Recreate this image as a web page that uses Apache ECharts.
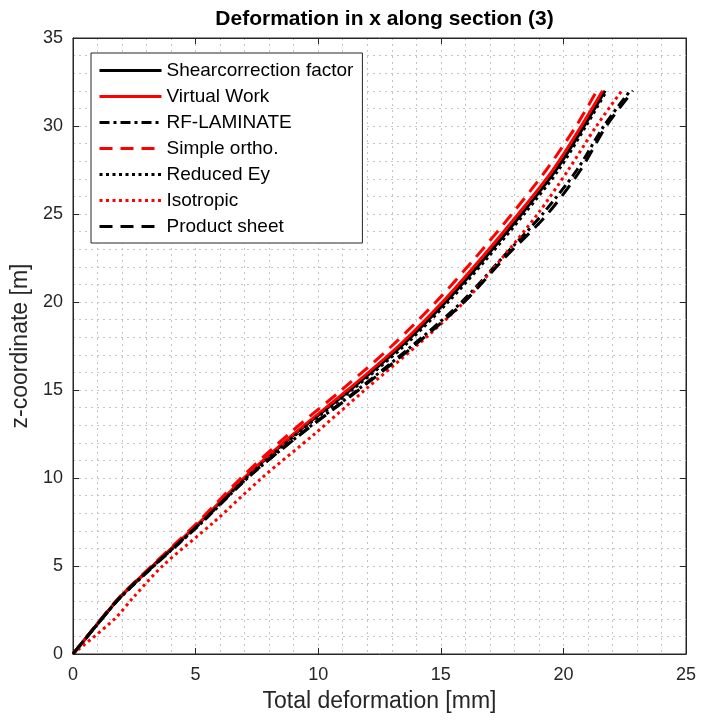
<!DOCTYPE html>
<html>
<head>
<meta charset="utf-8">
<title>Deformation in x along section (3)</title>
<script src="https://cdn.jsdelivr.net/npm/echarts@6/dist/echarts.min.js"></script>
<style>
  html, body { margin: 0; padding: 0; background: #fff; }
  #chart { width: 702px; height: 720px; }
</style>
</head>
<body>
<div id="chart"></div>
<script>
// Height along the section [m]
const zCoord = [0, 2, 3.2, 5, 7.5, 10, 12.5, 15, 17.5, 20, 22.5, 25, 27.5, 30, 32];

// Total deformation in x [mm] for each model
const shearCorrection = [0, 1.17, 1.90, 3.25, 5.20, 7.00, 9.05, 11.30, 13.40, 15.20, 16.80, 18.30, 19.70, 20.85, 21.70];
const virtualWork     = [0, 1.17, 1.90, 3.24, 5.18, 6.97, 9.00, 11.20, 13.28, 15.07, 16.66, 18.16, 19.57, 20.73, 21.60];
const rfLaminate      = [0, 1.18, 1.93, 3.30, 5.28, 7.12, 9.28, 11.60, 13.82, 15.85, 17.50, 19.15, 20.55, 21.65, 22.72];
const simpleOrtho     = [0, 1.15, 1.87, 3.20, 5.10, 6.85, 8.80, 10.95, 13.00, 14.80, 16.40, 17.90, 19.30, 20.52, 21.36];
const reducedEy       = [0, 1.18, 1.92, 3.28, 5.25, 7.06, 9.12, 11.38, 13.50, 15.30, 16.90, 18.40, 19.80, 20.92, 21.76];
const isotropic       = [0, 1.70, 2.45, 3.65, 5.75, 7.70, 9.85, 11.90, 14.00, 15.95, 17.50, 18.95, 20.20, 21.35, 22.38];
const productSheet    = [0, 1.17, 1.90, 3.27, 5.25, 7.10, 9.30, 11.65, 13.90, 15.95, 17.60, 19.35, 20.70, 21.75, 22.84];

const xTicks = [0, 5, 10, 15, 20, 25];
const yTicks = [0, 5, 10, 15, 20, 25, 30, 35];

const FONT = '"Liberation Sans", Arial, Helvetica, sans-serif';
const AXIS = '#262626';
const GRID = '#c4c4c4';

function pairs(values) {
  return values.map((d, i) => [d, zCoord[i]]);
}

function makeSeries(name, values, color, type) {
  return {
    name: name,
    type: 'line',
    data: pairs(values),
    xAxisIndex: 0,
    yAxisIndex: 0,
    symbol: 'none',
    smooth: 0.3,
    lineStyle: { color: color, width: 3, type: type, cap: 'butt' },
    itemStyle: { color: color },
    emphasis: { disabled: true },
    animation: false
  };
}

const seriesDefs = [
  ['Shearcorrection factor', shearCorrection, '#000000', 'solid'],
  ['Virtual Work', virtualWork, '#ff0000', 'solid'],
  ['RF-LAMINATE', rfLaminate, '#000000', [10, 4, 3, 4]],
  ['Simple ortho.', simpleOrtho, '#ff0000', [13, 8]],
  ['Reduced Ey', reducedEy, '#000000', [3, 3.5]],
  ['Isotropic', isotropic, '#ff0000', [3, 3.5]],
  ['Product sheet', productSheet, '#000000', [13, 8]]
];

const chart = echarts.init(document.getElementById('chart'), null, { renderer: 'canvas' });

const gridLine = { show: true, lineStyle: { color: GRID, width: 1, type: [2, 4] } };

chart.setOption({
  backgroundColor: '#ffffff',
  animation: false,
  title: {
    text: 'Deformation in x along section (3)',
    left: 379.5,
    textAlign: 'center',
    top: 4,
    textStyle: { fontFamily: FONT, fontSize: 21, fontWeight: 'bold', color: '#000' }
  },
  legend: {
    orient: 'vertical',
    left: 91,
    top: 53,
    padding: [8, 9, 7, 7],
    itemWidth: 62,
    itemHeight: 14,
    itemGap: 7,
    backgroundColor: '#ffffff',
    borderColor: AXIS,
    borderWidth: 1,
    itemStyle: { opacity: 0 },
    lineStyle: { width: 3 },
    textStyle: { fontFamily: FONT, fontSize: 19, color: '#000' },
    data: seriesDefs.map(s => s[0])
  },
  grid: {
    left: 73, right: 16, top: 38, bottom: 66,
    show: true, borderColor: AXIS, borderWidth: 1, backgroundColor: '#fff'
  },
  xAxis: [
    {
      type: 'value', min: 0, max: 25, interval: 5, position: 'bottom',
      name: 'Total deformation [mm]', nameLocation: 'middle', nameGap: 36,
      nameTextStyle: { fontFamily: FONT, fontSize: 23, color: AXIS },
      axisLine: { show: true, onZero: false, lineStyle: { color: AXIS, width: 1 } },
      axisTick: { show: true, inside: true, length: 6, lineStyle: { color: AXIS } },
      axisLabel: { fontFamily: FONT, fontSize: 18, color: AXIS, margin: 12,
        formatter: v => xTicks.includes(v) ? String(v) : '' },
      splitLine: gridLine,
      minorTick: { show: true, splitNumber: 5, length: 0 },
      minorSplitLine: gridLine
    },
    {
      type: 'value', min: 0, max: 25, interval: 5, position: 'top',
      axisLine: { show: true, onZero: false, lineStyle: { color: AXIS, width: 1 } },
      axisTick: { show: true, inside: true, length: 6, lineStyle: { color: AXIS } },
      axisLabel: { show: false }, splitLine: { show: false }
    }
  ],
  yAxis: [
    {
      type: 'value', min: 0, max: 35, interval: 5, position: 'left',
      name: 'z-coordinate [m]', nameLocation: 'middle', nameGap: 37, nameRotate: 90,
      nameTextStyle: { fontFamily: FONT, fontSize: 23, color: AXIS },
      axisLine: { show: true, onZero: false, lineStyle: { color: AXIS, width: 1 } },
      axisTick: { show: true, inside: true, length: 6, lineStyle: { color: AXIS } },
      axisLabel: { fontFamily: FONT, fontSize: 18, color: AXIS, margin: 10,
        formatter: v => yTicks.includes(v) ? String(v) : '' },
      splitLine: gridLine,
      minorTick: { show: true, splitNumber: 5, length: 0 },
      minorSplitLine: gridLine
    },
    {
      type: 'value', min: 0, max: 35, interval: 5, position: 'right',
      axisLine: { show: true, onZero: false, lineStyle: { color: AXIS, width: 1 } },
      axisTick: { show: true, inside: true, length: 6, lineStyle: { color: AXIS } },
      axisLabel: { show: false }, splitLine: { show: false }
    }
  ],
  series: seriesDefs.map(s => makeSeries(s[0], s[1], s[2], s[3]))
});
</script>
</body>
</html>
